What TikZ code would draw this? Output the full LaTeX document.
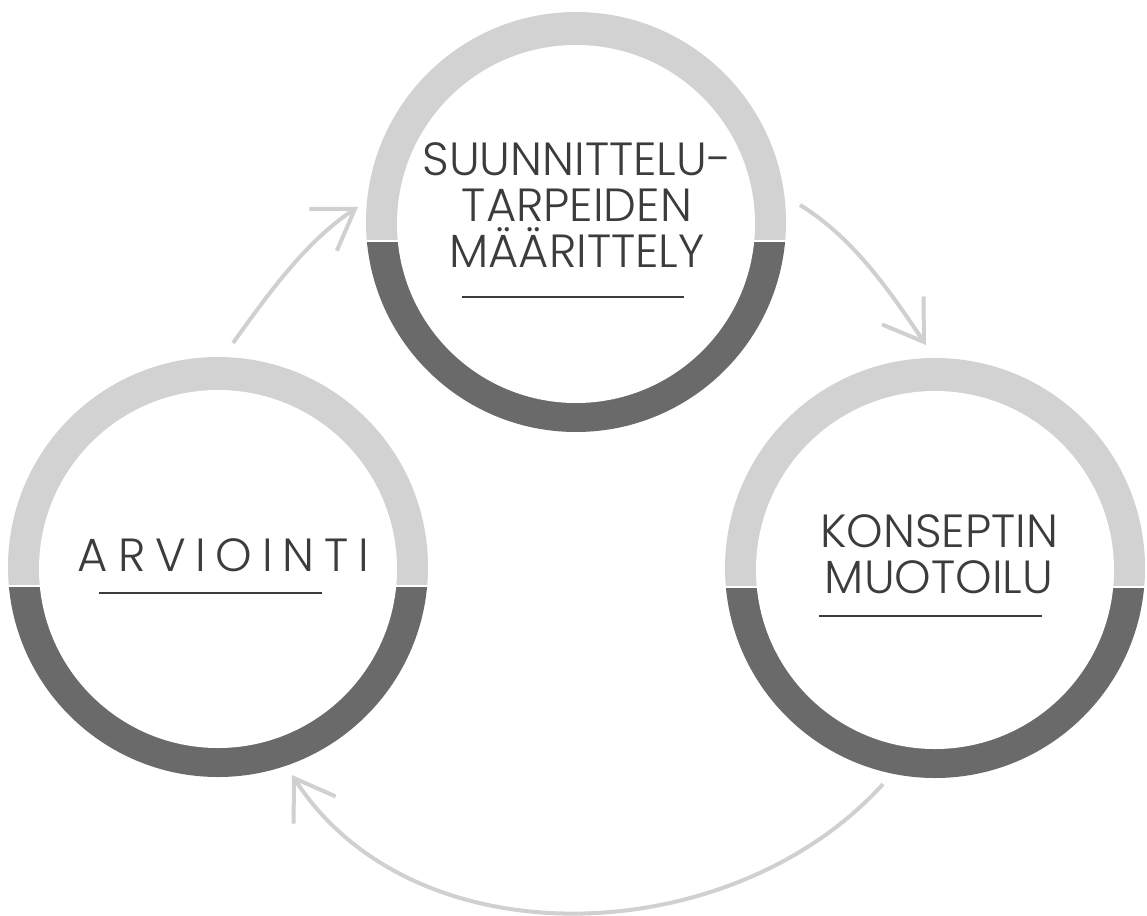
\documentclass[tikz,border=0pt]{standalone}
\usepackage{fontspec}
\setmainfont{Poppins}[UprightFont={* Light}]
\usetikzlibrary{arrows.meta}
\definecolor{ringlight}{HTML}{D2D2D2}
\definecolor{ringdark}{HTML}{6A6A6A}
\definecolor{txt}{HTML}{3C3C3C}
\definecolor{arrowc}{HTML}{D0D0D0}
\newcommand\stagering[1]{%
  \begin{scope}
    \clip ([shift={(-215,-215)}]#1.center) rectangle ([shift={(215,17.5)}]#1.center);
    \fill[ringlight] (#1.center) circle[radius=210];
  \end{scope}
  \begin{scope}
    \clip ([shift={(-215,20)}]#1.center) rectangle ([shift={(215,215)}]#1.center);
    \fill[ringdark] (#1.center) circle[radius=210];
  \end{scope}
  \fill[white] ([shift={(0,2)}]#1.center) circle[radius=179];
}
\begin{document}
\begin{tikzpicture}[x=1pt,y=-1pt,
  stage/.style={circle, minimum size=420pt, inner sep=0pt},
  stagetext/.style={text=txt, font=\fontsize{46.5}{46}\selectfont, align=center, inner sep=0pt},
  rule/.style={draw=txt, line width=2pt},
  flow/.style={draw=arrowc, line width=4pt, -{Straight Barb[length=38pt,width=50pt]}}
]
\useasboundingbox[fill=white] (0,0) rectangle (1147,915);

\node[stage] (top) at (576,222) {};
\node[stage] (left) at (218,567) {};
\node[stage] (right) at (935,568) {};
\stagering{top}
\stagering{left}
\stagering{right}

\node[stagetext, anchor=base] (t1) at (577,267) {SUUNNITTELU-\\TARPEIDEN\\MÄÄRITTELY};
\node[stagetext, anchor=base] (t2) at (223.5,571) {\addfontfeatures{LetterSpace=21}ARVIOINTI};
\node[stagetext, anchor=base] (t3) at (939,593) {KONSEPTIN\\MUOTOILU};

\draw[rule] ([shift={(-114,75)}]top.center) -- ++(222,0);
\draw[rule] ([shift={(-119,26)}]left.center) -- ++(223,0);
\draw[rule] ([shift={(-116,48)}]right.center) -- ++(223,0);

\coordinate (a1s) at (233,343);
\coordinate (a1e) at (358,207);
\coordinate (a2s) at (800,205);
\coordinate (a2e) at (926,345);
\coordinate (a3s) at (883,784);
\coordinate (a3e) at (292,775);
\draw[flow] (a1s) .. controls (269,293) and (306,241) .. (a1e);
\draw[flow] (a2s) .. controls (854,238) and (891,293) .. (a2e);
\draw[flow] (a3s) .. controls (732,951) and (414,964) .. (a3e);
\end{tikzpicture}
\end{document}
